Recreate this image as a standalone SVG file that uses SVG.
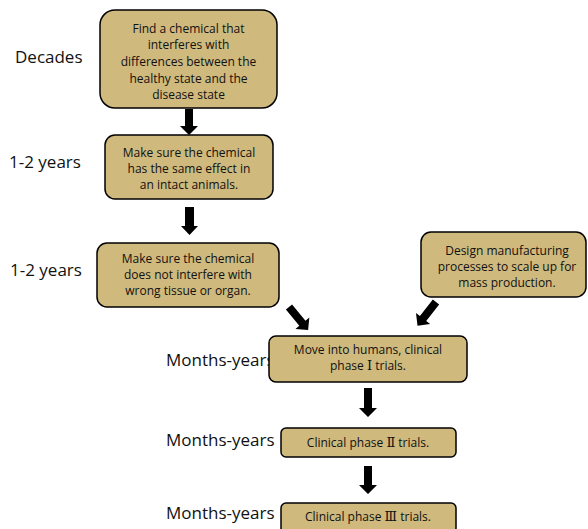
<svg xmlns="http://www.w3.org/2000/svg" width="588" height="529" viewBox="0 0 588 529">
<style>
.box{fill:#cfb97d;stroke:#000;stroke-width:1.5}
.nt{font-family:"Open Sans","Noto Sans",sans-serif;font-size:12px;fill:#111;text-anchor:middle}
.rn{font-family:"DejaVu Serif","Liberation Serif","Noto Sans CJK JP",serif;font-size:13px}
.lb{font-family:"Open Sans","Noto Sans",sans-serif;font-size:17px;fill:#111}
.arr{fill:#000}
</style>
<rect width="588" height="529" fill="#fff"/>
<g id="labels">
<text class="lb" x="15" y="63">Decades</text>
<text class="lb" x="9" y="168">1-2 years</text>
<text class="lb" x="10" y="276">1-2 years</text>
<text class="lb" x="166" y="366">Months-years</text>
<text class="lb" x="166" y="446">Months-years</text>
<text class="lb" x="166" y="519">Months-years</text>
</g>
<g id="connectors">
<path class="arr" d="M185,109 H193 V126 H198 L189,135 L180,126 H185 Z"/>
<path class="arr" d="M185,207 H194 V226 H198 L189.5,235 L181,226 H185 Z"/>
<path class="arr" transform="translate(289,307) rotate(-39.6)" d="M-4,0 H4 V21 H9 L0,30 L-9,21 H-4 Z"/>
<path class="arr" transform="translate(436,302) rotate(38)" d="M-4,0 H4 V21 H9 L0,30 L-9,21 H-4 Z"/>
<path class="arr" d="M364,388 H372 V408 H377 L368,417 L359,408 H364 Z"/>
<path class="arr" d="M364,466 H372 V485 H377 L368,494 L359,485 H364 Z"/>
</g>
<g id="n1">
<rect class="box" x="100" y="10" width="177" height="98" rx="15"/>
<text class="nt" x="188.5" y="33">Find a chemical that</text>
<text class="nt" x="188.5" y="49">interferes with</text>
<text class="nt" x="188.5" y="66">differences between the</text>
<text class="nt" x="188.5" y="83">healthy state and the</text>
<text class="nt" x="188.5" y="99">disease state</text>
</g>
<g id="n2">
<rect class="box" x="105" y="135" width="168" height="64" rx="10"/>
<text class="nt" x="189" y="157">Make sure the chemical</text>
<text class="nt" x="189" y="173">has the same effect in</text>
<text class="nt" x="189" y="189">an intact animals.</text>
</g>
<g id="n3">
<rect class="box" x="97" y="243" width="182" height="64" rx="10"/>
<text class="nt" x="188" y="263">Make sure the chemical</text>
<text class="nt" x="188" y="279">does not interfere with</text>
<text class="nt" x="188" y="295">wrong tissue or organ.</text>
</g>
<g id="n4">
<rect class="box" x="421" y="232" width="165" height="65" rx="10"/>
<text class="nt" x="507" y="255">Design manufacturing</text>
<text class="nt" x="507" y="271">processes  to scale up for</text>
<text class="nt" x="507" y="287">mass production.</text>
</g>
<g id="n5">
<rect class="box" x="269" y="336" width="198" height="46" rx="7"/>
<text class="nt" x="368" y="354">Move into humans, clinical</text>
<text class="nt" x="368" y="370">phase <tspan class="rn">Ⅰ</tspan> trials.</text>
</g>
<g id="n6">
<rect class="box" x="281" y="428" width="175" height="29" rx="5"/>
<text class="nt" x="368" y="447">Clinical phase <tspan class="rn">Ⅱ</tspan> trials.</text>
</g>
<g id="n7">
<rect class="box" x="281" y="503" width="175" height="30" rx="5"/>
<text class="nt" x="368" y="521">Clinical phase <tspan class="rn">Ⅲ</tspan> trials.</text>
</g>
</svg>
